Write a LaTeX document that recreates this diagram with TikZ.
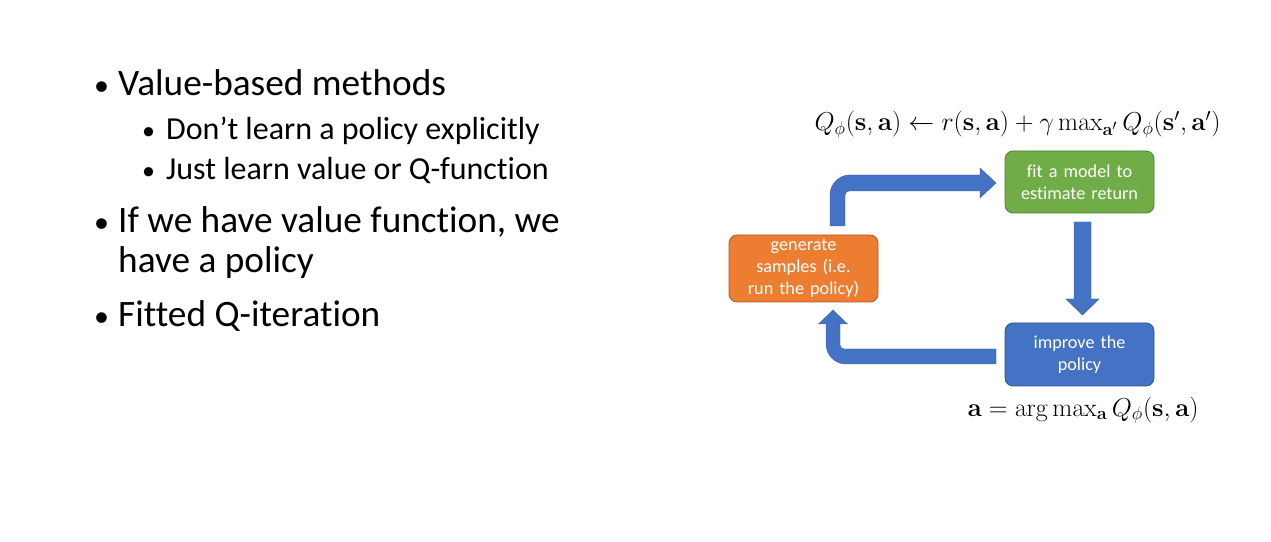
\documentclass[tikz,border=0pt]{standalone}
\usepackage{amsmath}
\usepackage{graphicx}
\usepackage[no-math]{fontspec}
\setmainfont{Carlito}[Ligatures=NoCommon]
\definecolor{accblue}{HTML}{4472C4}
\definecolor{accblueline}{HTML}{2F528F}
\definecolor{accgreen}{HTML}{70AD47}
\definecolor{accgreenline}{HTML}{507E32}
\definecolor{accorange}{HTML}{ED7D31}
\definecolor{accorangeline}{HTML}{AE5A21}
% math is set at 17.28pt, the largest preset size of the math fonts, then enlarged
\newcommand{\bigmath}[1]{\scalebox{1.5}{\fontsize{17.28}{21}\selectfont$#1$}}
\begin{document}
\begin{tikzpicture}[x=1pt,y=1pt,
  bigtext/.style={anchor=base west,inner sep=0pt,font=\fontsize{37.3}{44}\selectfont},
  subtext/.style={anchor=base west,inner sep=0pt,font=\fontsize{32}{38}\selectfont},
  bulletmark/.style={anchor=base west,inner sep=0pt,font=\fontsize{30}{36}\selectfont},
  subbulletmark/.style={anchor=base west,inner sep=0pt,font=\fontsize{26}{31}\selectfont},
  stepbox/.style={rectangle,rounded corners=8pt,minimum width=149pt,text width=145pt,
    align=center,text=white,line width=0.8pt,inner sep=0pt,
    font=\fontsize{18.2}{22}\selectfont},
  flowarrow/.style={fill=accblue,draw=accblue!85!black,line width=0.4pt,line join=miter},
  mathlabel/.style={anchor=base,inner sep=0pt}]
\useasboundingbox (0,0) rectangle (1271,541);
\fill[white] (0,0) rectangle (1271,541);

% bullet list
\node[bulletmark] (b1) at (94,445) {•};
\node[bigtext] (t1) at (118,445) {Value-based methods};
\node[subbulletmark] (b2) at (142,401) {•};
\node[subtext] (t2) at (166,401) {Don’t learn a policy explicitly};
\node[subbulletmark] (b3) at (142,361) {•};
\node[subtext] (t3) at (166,361) {Just learn value or Q-function};
\node[bulletmark] (b4) at (94,308) {•};
\node[bigtext] (t4) at (118,308) {If we have value function, we};
\node[bigtext] (t4b) at (118,268.5) {have a policy};
\node[bulletmark] (b5) at (94,214) {•};
\node[bigtext] (t5) at (118,214) {Fitted Q-iteration};

% the three steps of the loop
\node[stepbox,fill=accorange,draw=accorangeline,minimum height=67pt] (gen) at (803.5,272.5)
  {generate\\samples (i.e.\\run the policy)};
\node[stepbox,fill=accgreen,draw=accgreenline,minimum height=62pt] (fit) at (1079.5,359)
  {fit a model to\\estimate return};
\node[stepbox,fill=accblue,draw=accblueline,minimum height=63pt] (imp) at (1079.5,186.5)
  {improve the\\policy};

% block arrows between the steps
\fill[flowarrow] (830,315) -- (830,346) arc[start angle=180,end angle=90,radius=20]
  -- (980,366) -- (980,373) -- (996,358) -- (980,343) -- (980,350) -- (849,350)
  arc[start angle=90,end angle=180,radius=4] -- (845,315) -- cycle;
\fill[flowarrow] (1074,319) -- (1074,242) -- (1066,242) -- (1082.5,226) -- (1099,242)
  -- (1091,242) -- (1091,319) -- cycle;
\fill[flowarrow] (996,192) -- (844,192) arc[start angle=270,end angle=180,radius=4]
  -- (840,217) -- (847.5,217) -- (833,231) -- (818.5,217) -- (826,217) -- (826,197)
  arc[start angle=180,end angle=270,radius=20] -- (996,177) -- cycle;

% update rules
\node[mathlabel] (qupdate) at (1017.5,410)
  {\bigmath{Q_\phi(\mathbf{s},\mathbf{a}) \leftarrow r(\mathbf{s},\mathbf{a}) + \gamma \max_{\mathbf{a}'} Q_\phi(\mathbf{s}',\mathbf{a}')}};
\node[mathlabel] (greedy) at (1083,125)
  {\bigmath{\mathbf{a} = \arg\max_{\mathbf{a}} Q_\phi(\mathbf{s},\mathbf{a})}};
\end{tikzpicture}
\end{document}
